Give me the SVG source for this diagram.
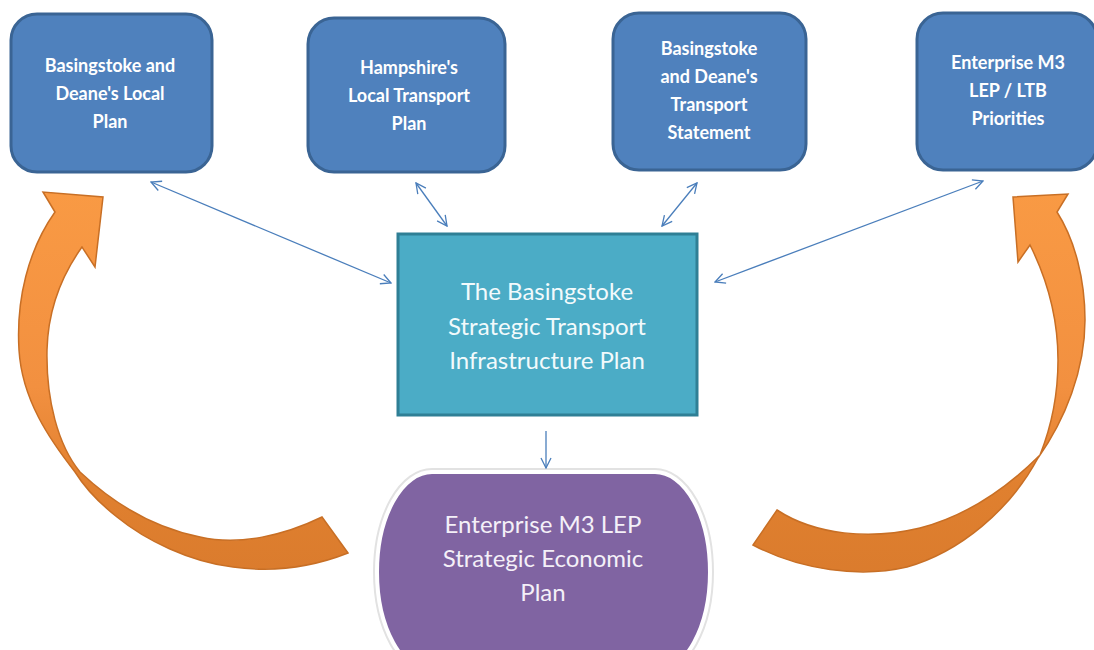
<svg xmlns="http://www.w3.org/2000/svg" width="1094" height="650" viewBox="0 0 1094 650">
<style>
.blue rect{fill:#4F81BD;stroke:#3A6494;stroke-width:3}
.blue text{font-family:Lato,"Liberation Sans",sans-serif;font-weight:bold;font-size:18px;fill:#fff;text-anchor:middle}
.big{font-family:Lato,"Liberation Sans",sans-serif;font-size:24px;text-anchor:middle}
.conn line{stroke:#4A7EBB;stroke-width:1.3;fill:none}
.orange{stroke:#C86F25;stroke-width:1.5;stroke-linejoin:miter}
</style>
<defs>
<marker id="ah" viewBox="0 0 12 12" refX="11" refY="6" markerWidth="12" markerHeight="12" markerUnits="userSpaceOnUse" orient="auto-start-reverse">
<path d="M1,1 L11,6 L1,11" fill="none" stroke="#4A7EBB" stroke-width="1.3"/>
</marker>
<linearGradient id="og" x1="0" y1="190" x2="0" y2="585" gradientUnits="userSpaceOnUse">
<stop offset="0" stop-color="#F99A44"/>
<stop offset="0.5" stop-color="#F29040"/>
<stop offset="0.75" stop-color="#E0802F"/>
<stop offset="1" stop-color="#DA7B2D"/>
</linearGradient>
</defs>
<rect width="1094" height="650" fill="#fff"/>

<g id="arrow-left" class="orange">
<path fill="url(#og)" d="M348,553 C310,568 270,572 233,567 C190,562 145,540 117,517 C98,502 85,488 75,472 C50,440 22,400 19,350 C16,300 28,250 55,212 L43,192 L103,197 L95,267 L82,247 C62,275 48,310 47,350 C46,400 58,445 80,472 C115,505 155,528 200,537 C240,546 285,535 322,517 Z"/>
</g>
<g id="arrow-right" class="orange">
<path fill="url(#og)" d="M753,545 C800,570 860,578 907,567 C960,552 1010,510 1038,458 C1065,420 1085,370 1085,320 C1085,280 1075,240 1057,212 L1068,194 L1013,197 L1018,262 L1030,245 C1045,275 1058,315 1058,360 C1058,400 1050,430 1040,455 C1010,485 970,515 920,528 C870,540 815,535 777,510 Z"/>
</g>

<g id="node-local-plan" class="blue">
<rect x="11" y="14" width="201" height="158" rx="26"/>
<text x="110" y="72">Basingstoke and</text>
<text x="110" y="100">Deane's Local</text>
<text x="110" y="128">Plan</text>
</g>
<g id="node-hampshire" class="blue">
<rect x="308" y="18" width="197" height="154" rx="26"/>
<text x="409" y="74">Hampshire's</text>
<text x="409" y="102">Local Transport</text>
<text x="409" y="130">Plan</text>
</g>
<g id="node-transport-statement" class="blue">
<rect x="613" y="13" width="193" height="157" rx="26"/>
<text x="709" y="55">Basingstoke</text>
<text x="709" y="83">and Deane's</text>
<text x="709" y="111">Transport</text>
<text x="709" y="139">Statement</text>
</g>
<g id="node-lep-priorities" class="blue">
<rect x="917" y="13" width="180" height="157" rx="26"/>
<text x="1008" y="69">Enterprise M3</text>
<text x="1008" y="97">LEP / LTB</text>
<text x="1008" y="125">Priorities</text>
</g>

<g id="node-stip">
<rect x="398" y="234" width="299" height="181" fill="#4BACC6" stroke="#2F7F95" stroke-width="3"/>
<text class="big" fill="#F2FAFC" x="547" y="300">The Basingstoke</text>
<text class="big" fill="#F2FAFC" x="547" y="335">Strategic Transport</text>
<text class="big" fill="#F2FAFC" x="547" y="369">Infrastructure Plan</text>
</g>

<g id="node-sep">
<rect x="377" y="472" width="333" height="200" rx="55" ry="100" fill="none" stroke="#E2E2E2" stroke-width="8"/>
<rect x="377" y="472" width="333" height="200" rx="55" ry="100" fill="#8064A2" stroke="#fff" stroke-width="4"/>
<text class="big" fill="#F4F0F8" x="543" y="533">Enterprise M3 LEP</text>
<text class="big" fill="#F4F0F8" x="543" y="567">Strategic Economic</text>
<text class="big" fill="#F4F0F8" x="543" y="601">Plan</text>
</g>

<g id="connectors" class="conn">
<line x1="151" y1="182" x2="391" y2="283" marker-start="url(#ah)" marker-end="url(#ah)"/>
<line x1="416" y1="183" x2="447" y2="226" marker-start="url(#ah)" marker-end="url(#ah)"/>
<line x1="697" y1="183" x2="662" y2="226" marker-start="url(#ah)" marker-end="url(#ah)"/>
<line x1="983" y1="181" x2="715" y2="282" marker-start="url(#ah)" marker-end="url(#ah)"/>
<line x1="546" y1="431" x2="546" y2="468" marker-end="url(#ah)"/>
</g>
</svg>
